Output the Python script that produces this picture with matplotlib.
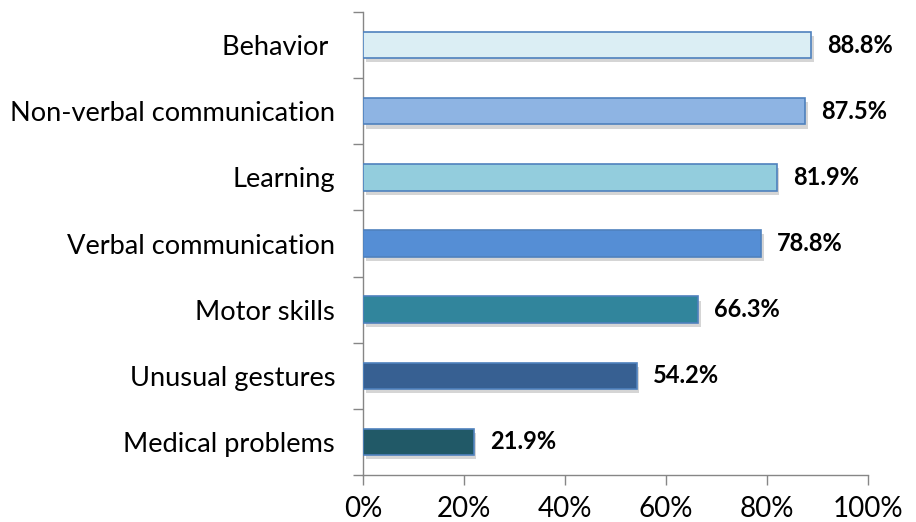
import matplotlib
matplotlib.use("Agg")
import matplotlib.pyplot as plt
import matplotlib.patheffects as pe
import numpy as np

categories = ["Behavior ", "Non-verbal communication", "Learning", "Verbal communication",
              "Motor skills", "Unusual gestures", "Medical problems"]
values = [88.8, 87.5, 81.9, 78.8, 66.3, 54.2, 21.9]
colors = ["#DBEEF4", "#8EB4E3", "#93CDDD", "#558ED5", "#31859C", "#376092", "#215967"]
xticks = [0, 20, 40, 60, 80, 100]
xtick_labels = ["0%", "20%", "40%", "60%", "80%", "100%"]

plt.rcParams['font.family'] = ['Lato', 'DejaVu Sans']

fig = plt.figure(figsize=(9.16, 5.22), dpi=100)
ax = fig.add_axes([363/916, 1 - 475/522, (868-363)/916, (475-12)/522])

n = len(categories)
y = np.arange(n)[::-1]
bars = ax.barh(y, values, height=0.4, color=colors, edgecolor="#4F81BD", linewidth=1.2, zorder=3)
for b in bars:
    b.set_path_effects([pe.SimplePatchShadow(offset=(2, -3), shadow_rgbFace="#888888", alpha=0.35), pe.Normal()])

for yi, v in zip(y, values):
    ax.text(v + 3.2, yi, f"{v:.1f}%", va="center", ha="left", fontsize=17, fontweight="bold", color="black")

ax.set_xlim(0, 100)
ax.set_ylim(-0.5, n - 0.5)
ax.set_xticks(xticks)
ax.set_xticklabels(xtick_labels, fontsize=20)
ax.set_yticks(y)
ax.set_yticklabels(categories, fontsize=19.6)
ax.tick_params(axis="y", length=0, pad=20)
ax.set_yticks(np.arange(-0.5, n, 1.0), minor=True)
ax.tick_params(axis="y", which="minor", length=7, color="#868686", width=1)
ax.tick_params(axis="x", length=7, color="#868686", width=1, pad=8)
for s in ["top", "right"]:
    ax.spines[s].set_visible(False)
for s in ["left", "bottom"]:
    ax.spines[s].set_color("#868686")
    ax.spines[s].set_linewidth(1)

fig.savefig("out.png", dpi=100)
